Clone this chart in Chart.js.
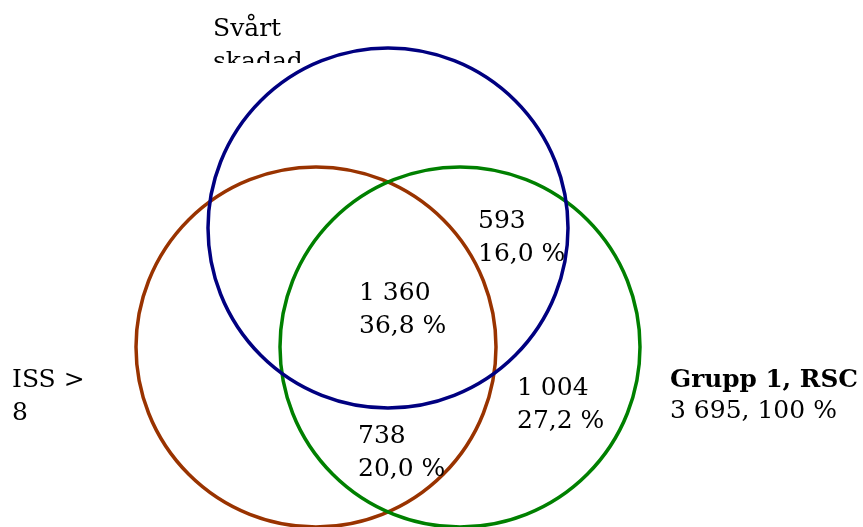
<!DOCTYPE html>
<html lang="sv">
<head>
    <meta charset="UTF-8">
    <title>Grupp 1, RSC</title>
    <style>
        body {
            margin: 0;
            background: #ffffff;
        }
        #chart {
            display: block;
        }
    </style>
</head>
<body>
    <canvas id="chart" width="863" height="527"></canvas>

    <script src="https://cdn.jsdelivr.net/npm/chart.js@4/dist/chart.umd.min.js"></script>
    <script>
        // sets (circles)
        const setNames = ['ISS >\n8', 'Grupp 1, RSC', 'Svårt\nskadad'];
        const setCenterX = [316, 460, 388];
        const setCenterY = [347, 347, 228];
        const setRadius = [180, 180, 180];
        const setColors = ['#993300', '#008000', '#000080'];

        // regions inside Grupp 1
        const regionCounts = ['593', '1 360', '1 004', '738'];
        const regionPercents = ['16,0 %', '36,8 %', '27,2 %', '20,0 %'];
        const groupTotal = '3 695, 100 %';

        // where the texts sit (chart units)
        const regionLabelPos = [[478, 228], [359, 300], [517, 395], [358, 443]];
        const setLabelPos = [[12, 387], [670, 387], [213, 36]];

        const FONT = '"DejaVu Serif"';
        const SIZE = 25;
        const LINE = 33;

        const textPlugin = {
            id: 'vennText',
            afterDatasetsDraw(chart) {
                const ctx = chart.ctx;
                const xs = chart.scales.x;
                const ys = chart.scales.y;
                ctx.save();
                ctx.fillStyle = '#000000';
                ctx.textAlign = 'left';
                ctx.textBaseline = 'alphabetic';

                ctx.font = SIZE + 'px ' + FONT;
                regionCounts.forEach((c, i) => {
                    const px = xs.getPixelForValue(regionLabelPos[i][0]);
                    const py = ys.getPixelForValue(regionLabelPos[i][1]);
                    ctx.fillText(c, px, py);
                    ctx.fillText(regionPercents[i], px, py + LINE);
                });

                // ISS > 8
                let p = setLabelPos[0];
                let lines = setNames[0].split('\n');
                lines.forEach((l, k) => {
                    ctx.fillText(l, xs.getPixelForValue(p[0]), ys.getPixelForValue(p[1]) + k * LINE);
                });

                // Grupp 1, RSC
                p = setLabelPos[1];
                ctx.font = 'bold ' + SIZE + 'px ' + FONT;
                ctx.fillText(setNames[1], xs.getPixelForValue(p[0]), ys.getPixelForValue(p[1]), 188);
                ctx.font = SIZE + 'px ' + FONT;
                ctx.fillText(groupTotal, xs.getPixelForValue(p[0]), ys.getPixelForValue(p[1]) + LINE - 2);

                // Svårt skadad, its box cuts the second line
                p = setLabelPos[2];
                ctx.save();
                ctx.beginPath();
                ctx.rect(0, 0, chart.width, 63);
                ctx.clip();
                lines = setNames[2].split('\n');
                lines.forEach((l, k) => {
                    ctx.fillText(l, xs.getPixelForValue(p[0]), ys.getPixelForValue(p[1]) + k * LINE);
                });
                ctx.restore();

                ctx.restore();
            }
        };

        const ctx = document.getElementById('chart');

        const datasets = setNames.map((name, i) => ({
            label: name.replace('\n', ' '),
            data: [{ x: setCenterX[i], y: setCenterY[i] }],
            showLine: false,
            pointRadius: c => {
                const s = c.chart.scales.x;
                return s.getPixelForValue(setRadius[i]) - s.getPixelForValue(0);
            },
            pointBorderColor: setColors[i],
            pointBackgroundColor: 'rgba(0,0,0,0)',
            pointBorderWidth: 3.5,
            order: 2 - i,
            clip: false
        }));

        new Chart(ctx, {
            type: 'scatter',
            data: { datasets: datasets },
            options: {
                responsive: false,
                animation: false,
                events: [],
                layout: { padding: 0 },
                scales: {
                    x: { type: 'linear', min: 0, max: 863, display: false },
                    y: { type: 'linear', min: 0, max: 527, reverse: true, display: false }
                },
                plugins: {
                    legend: { display: false },
                    tooltip: { enabled: false }
                }
            },
            plugins: [textPlugin]
        });
    </script>
</body>
</html>
